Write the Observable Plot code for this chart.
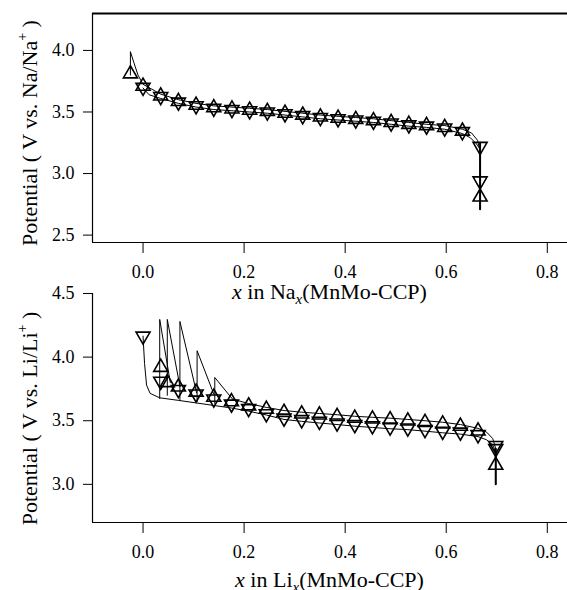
<!DOCTYPE html>
<html><head><meta charset="utf-8">
<script src="https://cdn.jsdelivr.net/npm/d3@7"></script>
<script src="https://cdn.jsdelivr.net/npm/@observablehq/plot@0.6"></script>
<style>
body{margin:0;background:#fff;}
#wrap{position:relative;width:567px;height:590px;overflow:hidden;background:#fff;}
#wrap svg{position:absolute;left:0;}
</style></head><body><div id="wrap"></div>
<script>
// ---------- Na panel (top) ----------
const naUpX = [-0.025, 0, 0.035, 0.07, 0.105, 0.14, 0.176, 0.211, 0.246, 0.281, 0.316, 0.351, 0.386, 0.421, 0.456, 0.491, 0.526, 0.561, 0.597, 0.632, 0.667];
const naUpV = [3.81, 3.71, 3.63, 3.585, 3.555, 3.535, 3.525, 3.515, 3.505, 3.49, 3.475, 3.46, 3.45, 3.44, 3.43, 3.415, 3.40, 3.39, 3.375, 3.345, 2.81];
const naDownX = [0, 0.035, 0.07, 0.105, 0.14, 0.176, 0.211, 0.246, 0.281, 0.316, 0.351, 0.386, 0.421, 0.456, 0.491, 0.526, 0.561, 0.597, 0.632, 0.667, 0.667];
const naDownV = [3.70, 3.625, 3.58, 3.55, 3.53, 3.52, 3.51, 3.50, 3.485, 3.47, 3.455, 3.445, 3.435, 3.425, 3.41, 3.395, 3.385, 3.37, 3.34, 3.22, 2.94];
const naLineAX = [-0.025, -0.025, -0.018, -0.01, 0, 0.035, 0.07, 0.105, 0.14, 0.176, 0.211, 0.246, 0.281, 0.316, 0.351, 0.386, 0.421, 0.456, 0.491, 0.526, 0.561, 0.597, 0.632, 0.65, 0.662, 0.667, 0.667];
const naLineAV = [3.80, 3.99, 3.90, 3.80, 3.725, 3.645, 3.60, 3.57, 3.55, 3.54, 3.53, 3.52, 3.505, 3.49, 3.475, 3.465, 3.455, 3.445, 3.43, 3.415, 3.40, 3.39, 3.36, 3.33, 3.27, 3.18, 2.71];
const naLineBX = [0, 0.012, 0.035, 0.07, 0.105, 0.14, 0.176, 0.211, 0.246, 0.281, 0.316, 0.351, 0.386, 0.421, 0.456, 0.491, 0.526, 0.561, 0.597, 0.632, 0.648, 0.66, 0.667];
const naLineBV = [3.695, 3.64, 3.61, 3.57, 3.54, 3.52, 3.51, 3.50, 3.49, 3.475, 3.46, 3.445, 3.435, 3.425, 3.415, 3.40, 3.385, 3.375, 3.36, 3.325, 3.29, 3.24, 3.2];
const naTailX = [0.667, 0.667];
const naTailV = [3.25, 2.71];
const naTicksY = [2.5, 3.0, 3.5, 4.0];

// ---------- Li panel (bottom) ----------
const liUpX = [0.035, 0.048, 0.07, 0.105, 0.14, 0.175, 0.209, 0.244, 0.279, 0.314, 0.349, 0.384, 0.419, 0.454, 0.489, 0.524, 0.558, 0.593, 0.628, 0.663, 0.698];
const liUpV = [3.92, 3.80, 3.765, 3.725, 3.685, 3.65, 3.617, 3.59, 3.566, 3.553, 3.545, 3.534, 3.52, 3.514, 3.508, 3.498, 3.487, 3.475, 3.457, 3.42, 3.15];
const liDownX = [0, 0.035, 0.07, 0.105, 0.14, 0.175, 0.209, 0.244, 0.279, 0.314, 0.349, 0.384, 0.419, 0.454, 0.489, 0.524, 0.558, 0.593, 0.628, 0.663, 0.698, 0.698];
const liDownV = [4.165, 3.81, 3.745, 3.71, 3.67, 3.63, 3.595, 3.555, 3.52, 3.508, 3.495, 3.482, 3.469, 3.46, 3.45, 3.443, 3.43, 3.417, 3.41, 3.39, 3.305, 3.28];
const liLineCX = [0.177, 0.209, 0.244, 0.279, 0.314, 0.349, 0.384, 0.419, 0.454, 0.489, 0.524, 0.558, 0.593, 0.628, 0.663, 0.68, 0.692, 0.698, 0.698];
const liLineCV = [3.67, 3.635, 3.605, 3.58, 3.567, 3.557, 3.547, 3.535, 3.527, 3.52, 3.51, 3.50, 3.488, 3.47, 3.44, 3.41, 3.36, 3.28, 3.0];
const liLineDX = [0, 0.003, 0.007, 0.014, 0.033, 0.07, 0.105, 0.14, 0.175, 0.209, 0.244, 0.279, 0.314, 0.349, 0.384, 0.419, 0.454, 0.489, 0.524, 0.558, 0.593, 0.628, 0.663, 0.68, 0.692, 0.698];
const liLineDV = [4.165, 3.95, 3.78, 3.715, 3.68, 3.66, 3.64, 3.62, 3.60, 3.575, 3.545, 3.51, 3.495, 3.482, 3.47, 3.457, 3.447, 3.437, 3.43, 3.418, 3.405, 3.395, 3.375, 3.35, 3.31, 3.25];
const liSpikeId = [1, 1, 1, 2, 2, 2, 3, 3, 3, 4, 4, 4, 5, 5, 5];
const liSpikeX = [0.033, 0.033, 0.054, 0.048, 0.048, 0.073, 0.073, 0.073, 0.106, 0.107, 0.107, 0.14, 0.142, 0.142, 0.177];
const liSpikeV = [3.675, 4.296, 3.80, 3.70, 4.296, 3.77, 3.66, 4.28, 3.72, 3.65, 4.05, 3.71, 3.635, 3.84, 3.67];
const liTailX = [0.698, 0.698];
const liTailV = [3.28, 3.0];
const liTicksY = [3.0, 3.5, 4.0, 4.5];

const xTicks = [0.0, 0.2, 0.4, 0.6, 0.8];

// ---------- build ----------
const pts = (xs, vs) => xs.map((x, i) => ({x, v: vs[i]}));
const s3 = Math.sqrt(3);
const triUp = {draw(ctx, size) { const y = Math.sqrt(size / (3 * s3)), w = s3 * y; ctx.moveTo(0, -2 * y); ctx.lineTo(w, y); ctx.lineTo(-w, y); ctx.closePath(); }};
const triDown = {draw(ctx, size) { const y = Math.sqrt(size / (3 * s3)), w = s3 * y; ctx.moveTo(0, 2 * y); ctx.lineTo(w, -y); ctx.lineTo(-w, -y); ctx.closePath(); }};
const FONT = "'Liberation Serif','Times New Roman',serif";

function panel({yDomain, yTicks, lines, tail, up, down, topLine}) {
  const marks = [];
  if (topLine) marks.push(Plot.ruleY([yDomain[1]], {stroke: "black", strokeWidth: 2}));
  marks.push(Plot.ruleX([-0.1], {stroke: "black", strokeWidth: 1.2}));
  marks.push(Plot.ruleY([yDomain[0]], {stroke: "black", strokeWidth: 1.2}));
  for (const l of lines) marks.push(Plot.line(l, {x: "x", y: "v", z: "z", stroke: "black", strokeWidth: 1}));
  marks.push(Plot.line(tail, {x: "x", y: "v", stroke: "black", strokeWidth: 2}));
  marks.push(Plot.dot(up, {x: "x", y: "v", symbol: triUp, r: 5.2, stroke: "black", strokeWidth: 1.6, fill: "none"}));
  marks.push(Plot.dot(down, {x: "x", y: "v", symbol: triDown, r: 5.2, stroke: "black", strokeWidth: 1.6, fill: "none"}));
  const svg = Plot.plot({
    width: 567, height: 310,
    marginLeft: 92, marginRight: 0, marginTop: 13, marginBottom: 68,
    style: {fontFamily: FONT, fontSize: "18px", background: "transparent", color: "black", overflow: "hidden"},
    x: {domain: [-0.1, 0.84], ticks: xTicks, tickFormat: d3.format(".1f"), tickSize: 11, tickPadding: 12, label: null},
    y: {domain: yDomain, ticks: yTicks, tickFormat: d3.format(".1f"), tickSize: 9, tickPadding: 9, label: null},
    marks
  });
  d3.select(svg).selectAll("text")
    .attr("font-family", FONT).style("font-family", FONT).style("font-size", "18px").style("fill", "black");
  return svg;
}

function labels(svg, ion, xBase, yCenter) {
  const s = d3.select(svg);
  const t = s.append("text").attr("transform", `translate(37,${yCenter}) rotate(-90)`)
    .attr("text-anchor", "middle").style("font-family", FONT).style("font-size", "22px").attr("fill", "black");
  t.append("tspan").text(`Potential ( V vs. ${ion}/${ion}`);
  t.append("tspan").attr("dy", -10).style("font-size", "14px").text("+");
  t.append("tspan").attr("dy", 10).text(" )");
  const u = s.append("text").attr("x", 329.5).attr("y", xBase)
    .attr("text-anchor", "middle").style("font-family", FONT).style("font-size", "22px").attr("fill", "black");
  u.append("tspan").attr("font-style", "italic").text("x");
  u.append("tspan").text(` in ${ion}`);
  u.append("tspan").attr("dy", 5).style("font-size", "15px").attr("font-style", "italic").text("x");
  u.append("tspan").attr("dy", -5).text("(MnMo-CCP)");
}

const wrap = document.getElementById("wrap");

const naLines = [
  pts(naLineAX, naLineAV).map(d => ({...d, z: "a"})),
  pts(naLineBX, naLineBV).map(d => ({...d, z: "b"}))
];
const naSvg = panel({yDomain: [2.44, 4.3], yTicks: naTicksY, lines: naLines, tail: pts(naTailX, naTailV),
  up: pts(naUpX, naUpV), down: pts(naDownX, naDownV), topLine: true});
naSvg.style.top = "0px";
labels(naSvg, "Na", 299, 133);
wrap.appendChild(naSvg);

const liLines = [
  pts(liLineCX, liLineCV).map(d => ({...d, z: "c"})),
  pts(liLineDX, liLineDV).map(d => ({...d, z: "d"})),
  liSpikeX.map((x, i) => ({x, v: liSpikeV[i], z: "s" + liSpikeId[i]}))
];
const liSvg = panel({yDomain: [2.70, 4.5], yTicks: liTicksY, lines: liLines, tail: pts(liTailX, liTailV),
  up: pts(liUpX, liUpV), down: pts(liDownX, liDownV), topLine: false});
liSvg.style.top = "280px";
labels(liSvg, "Li", 306.5, 138.5);
wrap.appendChild(liSvg);
</script>
</body></html>
